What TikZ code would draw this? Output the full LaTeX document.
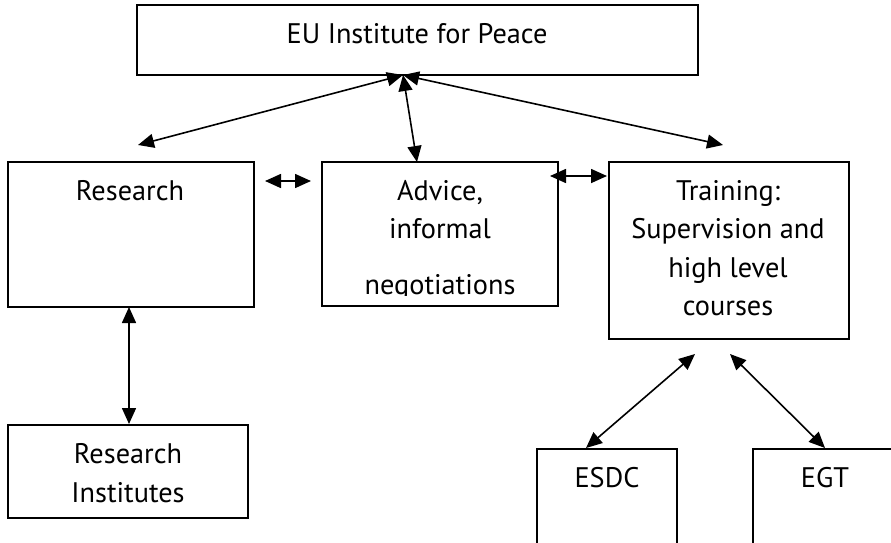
\documentclass[tikz,border=0pt]{standalone}
\usepackage{fontspec}
\setmainfont{PT Sans}
\usetikzlibrary{arrows.meta}

\begin{document}
\begin{tikzpicture}[x=1pt,y=-1pt,line width=1.6pt,
  box/.style={draw,rectangle,inner sep=0pt},
  lbl/.style={anchor=base,inner sep=0pt,font=\fontsize{28.3}{34}\selectfont},
  link/.style={{Triangle[length=16pt,width=14pt]}-{Triangle[length=16pt,width=14pt]}}]

  \useasboundingbox (0,0) rectangle (891,542);

  % Boxes
  \node[box,minimum width=561pt,minimum height=70pt] (eu) at (417.5,40) {};
  \node[box,minimum width=246pt,minimum height=145pt] (research) at (131,234.5) {};
  \node[box,minimum width=236pt,minimum height=144pt] (advice) at (440,234) {};
  \node[box,minimum width=240pt,minimum height=177pt] (training) at (729,250.5) {};
  \node[box,minimum width=240pt,minimum height=93pt] (institutes) at (128,471.5) {};
  \node[box,minimum width=140pt,minimum height=130pt] (esdc) at (607,514) {};
  \node[box,minimum width=160pt,minimum height=130pt] (egt) at (833,514) {};

  % Labels
  \node[lbl] (eu-t) at (417,43) {EU Institute for Peace};
  \node[lbl] (research-t) at (130,200) {Research};
  \node[lbl] (advice-t1) at (440,200) {Advice,};
  \node[lbl] (advice-t2) at (440,238) {informal};
  \begin{scope}
    \clip (322,162) rectangle (558,295);
    \node[lbl] (advice-t3) at (440,294) {negotiations};
  \end{scope}
  \node[lbl] (training-t1) at (728,200) {Training:};
  \node[lbl] (training-t2) at (728,238) {Supervision and};
  \node[lbl] (training-t3) at (728,277) {high level};
  \node[lbl] (training-t4) at (728,315) {courses};
  \node[lbl] (institutes-t1) at (128,463) {Research};
  \node[lbl] (institutes-t2) at (128,502) {Institutes};
  \node[lbl] (esdc-t) at (607,487) {ESDC};
  \node[lbl] (egt-t) at (825,487) {EGT};

  % Arrow ends
  \coordinate (hub) at (403,75);
  \coordinate (r-top) at (138,145);
  \coordinate (a-top) at (417,162);
  \coordinate (t-top) at (723,145);
  \coordinate (r-right) at (265,181);
  \coordinate (a-left) at (311,181);
  \coordinate (a-right) at (550,176);
  \coordinate (t-left) at (607,176);
  \coordinate (r-bot) at (129,307);
  \coordinate (i-top) at (129,424);
  \coordinate (t-bot1) at (695,354);
  \coordinate (e-top) at (586,448);
  \coordinate (t-bot2) at (730,354);
  \coordinate (g-top) at (825,448);

  % Arrows
  \draw[link] (hub) -- (r-top);
  \draw[link] (hub) -- (a-top);
  \draw[link] (hub) -- (t-top);
  \draw[link] (r-right) -- (a-left);
  \draw[link] (a-right) -- (t-left);
  \draw[link] (r-bot) -- (i-top);
  \draw[link] (t-bot1) -- (e-top);
  \draw[link] (t-bot2) -- (g-top);

\end{tikzpicture}
\end{document}
